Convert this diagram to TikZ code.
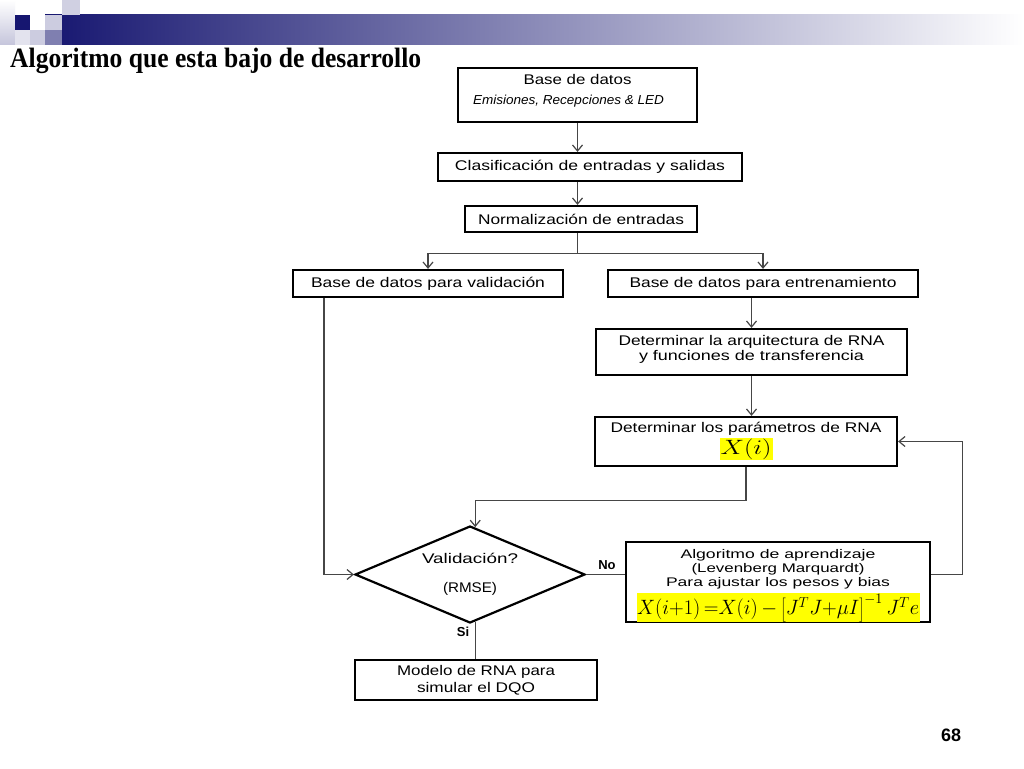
\documentclass[tikz,border=0pt]{standalone}
\usepackage{fontspec}
\setmainfont{Liberation Sans}
\newfontfamily\titlefont{Liberation Serif}
\usepackage{graphicx}
\usetikzlibrary{arrows.meta,shapes.geometric,calc}
\definecolor{navy}{RGB}{22,22,112}
\definecolor{connc}{RGB}{70,70,70}
\definecolor{hl}{RGB}{255,255,0}
\newcommand\fitw[2]{\resizebox{#1pt}{\height}{#2}}
\begin{document}
\begin{tikzpicture}[x=1pt,y=-1pt,
  box/.style={draw=black,line width=2.2pt,rectangle,inner sep=0pt,align=center,
              font=\fontsize{14}{15}\selectfont},
  conn/.style={draw=connc,line width=1.2pt},
  arr/.style={conn,-{Straight Barb[length=6pt,width=10pt]}},
  lbl/.style={font=\bfseries\fontsize{13}{13}\selectfont,inner sep=0pt}
]
\useasboundingbox (0,0) rectangle (1024,768);
\fill[white] (0,0) rectangle (1024,768);

% header
\shade[left color=navy, right color=white] (45,15) rectangle (1024,45);
\shade[top color=white, bottom color=navy!25] (0,0) rectangle (15,45);
\fill[navy] (15,15) rectangle (30,30);
\fill[navy!22] (30,30) rectangle (45,45);
\fill[navy!22] (45,15) rectangle (62,30);
\fill[navy!55] (45,30) rectangle (62,45);
\fill[navy!20] (62,0) rectangle (80,15);
\fill[navy!12] (15,30) rectangle (30,45);

% title
\node[anchor=base west,inner sep=0pt] (title) at (10,67)
  {\titlefont\bfseries\fontsize{28}{28}\selectfont\fitw{411}{Algoritmo que esta bajo de desarrollo}};

% boxes
\node[box,minimum width=239pt,minimum height=54pt] (b1) at (577.5,95)
  {\fitw{108}{Base de datos}\\[5pt]{\itshape\fontsize{13}{13}\selectfont\fitw{191}{Emisiones, Recepciones \& LED}\hspace*{18pt}}\rule[-12pt]{0pt}{12pt}};
\node[box,minimum width=304pt,minimum height=28pt] (b2) at (590,167)
  {\fitw{270}{Clasificación de entradas y salidas}};
\node[box,minimum width=232pt,minimum height=26pt] (b3) at (581,219)
  {\fitw{206}{Normalización de entradas}};
\node[box,minimum width=270pt,minimum height=27pt] (b4) at (428,283.5)
  {\fitw{234}{Base de datos para validación}};
\node[box,minimum width=310pt,minimum height=27pt] (b5) at (763,283.5)
  {\fitw{267}{Base de datos para entrenamiento}};
\node[box,minimum width=311pt,minimum height=46pt] (b6) at (751.5,352)
  {\fitw{266}{Determinar la arquitectura de RNA}\\\fitw{225}{y funciones de transferencia}\rule[-9pt]{0pt}{9pt}};
\node[box,minimum width=302pt,minimum height=49pt] (b7) at (746,441.5)
  {\fitw{271}{Determinar los parámetros de RNA}\\[1pt]{\setlength{\fboxsep}{1pt}\colorbox{hl}{\fitw{51}{\fontsize{22}{22}\selectfont$X\!\left(i\right)$}}}};
\node[box,minimum width=304pt,minimum height=78pt,font=\fontsize{12.5}{14}\selectfont] (b8) at (778,582)
  {\rule{0pt}{17pt}\fitw{195}{Algoritmo de aprendizaje}\\\fitw{173}{(Levenberg Marquardt)}\\\fitw{224}{Para ajustar los pesos y bias}\\[3pt]{\setlength{\fboxsep}{0.5pt}\colorbox{hl}{\fitw{282}{\fontsize{20}{20}\selectfont$X\!\left(i{+}1\right){=}X\!\left(i\right){-}\left[J^{T}J{+}\mu I\right]^{-1}J^{T}e$}}}};
\node[draw=black,line width=2.2pt,diamond,aspect=2.4,minimum width=230pt,minimum height=97pt,inner sep=0pt,align=center,font=\fontsize{14}{15}\selectfont] (d) at (470,574.5)
  {\fitw{96}{Validación?}\\[14pt]\fitw{54}{(RMSE)}};
\node[box,minimum width=242pt,minimum height=40pt,font=\fontsize{14}{17}\selectfont] (b10) at (476,680)
  {\fitw{158}{Modelo de RNA para}\\\fitw{118}{simular el DQO}};

% labels
\node[lbl,anchor=center] (no) at (607,565) {No};
\node[lbl,anchor=center] (si) at (463,632) {Si};
\node[inner sep=0pt,font=\bfseries\fontsize{18}{18}\selectfont] (pg) at (951,735) {68};

% connectors
\draw[arr] (b1.south) -- (b1.south |- b2.north);
\draw[arr] (b1.south |- b2.south) -- (b1.south |- b3.north);
\draw[conn] (b1.south |- b3.south) -- ++(0,20) coordinate (split);
\draw[arr] (split) -| (b4.north);
\draw[arr] (split) -| (b5.north);
\draw[arr] (b6.north |- b5.south) -- (b6.north);
\draw[arr] (b6.south) -- (b6.south |- b7.north);
\coordinate (dtop) at ($(d.north)!0.045!(d.east)$);
\draw[arr] (b7.south) -- ++(0,33) -| (dtop);
\draw[arr] ($(b4.south west)+(32,0)$) |- (d.west);
\draw[conn] (d.east) -- (d.east -| b8.west);
\draw[arr] (b8.east |- d.east) -- ++(31,0) |- (b7.east);
\coordinate (dbot) at ($(d.south)!0.045!(d.east)$);
\draw[conn] (dbot) -- (dbot |- b10.north);
\end{tikzpicture}
\end{document}
